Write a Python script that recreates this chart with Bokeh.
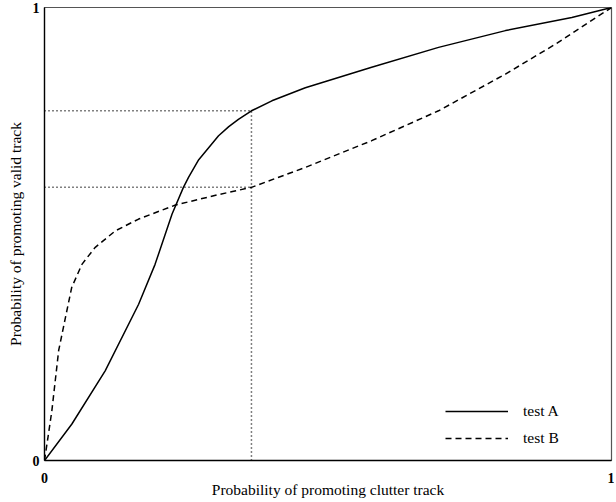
from bokeh.plotting import figure
from bokeh.models import Range1d, FixedTicker, Legend, LegendItem
from bokeh.embed import file_html
from bokeh.resources import INLINE

# Test A (solid) curve
a_x = [0.0, 0.048, 0.107, 0.166, 0.195, 0.225, 0.245, 0.254, 0.272, 0.307, 0.325,
       0.342, 0.365, 0.401, 0.460, 0.577, 0.695, 0.813, 0.930, 1.0]
a_y = [0.0, 0.080, 0.198, 0.345, 0.433, 0.544, 0.603, 0.625, 0.664, 0.717, 0.737,
       0.753, 0.772, 0.794, 0.823, 0.868, 0.912, 0.949, 0.978, 1.0]

# Test B (dashed) curve
b_x = [0.0, 0.006, 0.013, 0.025, 0.037, 0.048, 0.066, 0.089, 0.125, 0.166, 0.231,
       0.307, 0.365, 0.460, 0.577, 0.695, 0.813, 0.901, 1.0]
b_y = [0.0, 0.050, 0.110, 0.243, 0.316, 0.382, 0.433, 0.470, 0.507, 0.533, 0.564,
       0.587, 0.603, 0.647, 0.706, 0.772, 0.853, 0.919, 1.0]

# Reference (dotted) guide lines
ref_x = 0.365
ref_y_a = 0.772
ref_y_b = 0.603

ticks = [0, 1]
x_label = "Probability of promoting clutter track"
y_label = "Probability of promoting valid track"
names = ["test A", "test B"]

FONT = "Liberation Serif"

p = figure(frame_width=567, frame_height=453, output_backend="svg", toolbar_location=None,
           x_range=Range1d(0, 1), y_range=Range1d(0, 1),
           min_border_left=44, min_border_right=3, min_border_top=7, min_border_bottom=37)
p.xgrid.visible = False
p.ygrid.visible = False
p.background_fill_color = "white"
p.border_fill_color = "white"
p.outline_line_color = "#555555"
p.outline_line_width = 1.2

for ax in (p.xaxis[0], p.yaxis[0]):
    ax.ticker = FixedTicker(ticks=ticks)
    ax.major_tick_out = 0
    ax.major_tick_in = 0
    ax.minor_tick_out = 0
    ax.minor_tick_in = 0
    ax.axis_line_color = "black"
    ax.axis_line_width = 1.3
    ax.major_label_text_font = FONT
    ax.major_label_text_font_style = "bold"
    ax.major_label_text_font_size = "14px"
    ax.major_label_text_color = "black"
    ax.axis_label_text_font = FONT
    ax.axis_label_text_font_style = "normal"
    ax.axis_label_text_font_size = "15.5px"
    ax.axis_label_text_color = "black"

p.xaxis[0].axis_label = x_label
p.yaxis[0].axis_label = y_label
p.xaxis[0].major_label_standoff = 12
p.xaxis[0].axis_label_standoff = -5
p.yaxis[0].major_label_standoff = 5
p.yaxis[0].axis_label_standoff = 6

# dotted guides
p.line([0, ref_x], [ref_y_a, ref_y_a], line_color="black", line_width=1.5, line_dash="1 3")
p.line([0, ref_x], [ref_y_b, ref_y_b], line_color="black", line_width=1.5, line_dash="1 3")
p.line([ref_x, ref_x], [0, ref_y_a], line_color="black", line_width=1.5, line_dash="1 3")

ra = p.line(a_x, a_y, line_color="black", line_width=1.5)
rb = p.line(b_x, b_y, line_color="black", line_width=1.5, line_dash="6 4")

legend = Legend(items=[LegendItem(label=names[0], renderers=[ra]),
                       LegendItem(label=names[1], renderers=[rb])],
                location=(401, 12), padding=0, margin=0, spacing=7,
                glyph_width=63, glyph_height=20, label_standoff=15,
                border_line_color=None, background_fill_alpha=0,
                label_text_font=FONT, label_text_font_size="15.5px",
                label_text_color="black")
p.add_layout(legend, "center")

open("out.html", "w").write(file_html(p, INLINE))
